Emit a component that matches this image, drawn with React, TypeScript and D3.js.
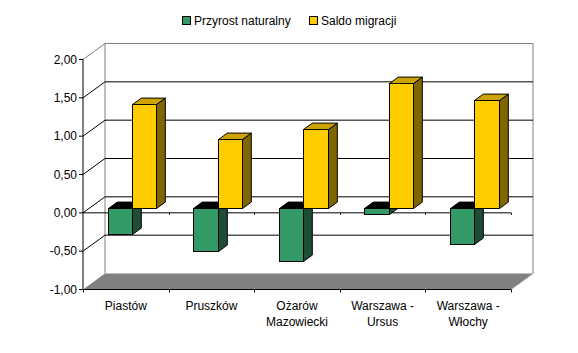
import * as d3 from "d3";

const categories = ["Piastów", "Pruszków", "Ożarów Mazowiecki", "Warszawa - Ursus", "Warszawa - Włochy"];
const categoryLines = [["Piastów"], ["Pruszków"], ["Ożarów", "Mazowiecki"], ["Warszawa -", "Ursus"], ["Warszawa -", "Włochy"]];
const seriesNames = ["Przyrost naturalny", "Saldo migracji"];
const przyrost = [-0.33, -0.55, -0.69, -0.07, -0.46];
const saldo = [1.36, 0.91, 1.04, 1.63, 1.41];
const yTicks = [-1, -0.5, 0, 0.5, 1, 1.5, 2];

const W = 578;
const H = 353;
const DX = 22; // depth of the 3d box
const DY = -16;
const FRONT = 0.28; // where the bars start in depth
const DEPTH = 0.4; // bar depth

const faces = [
  { front: "#339966", side: "#1d4d35", top: "#000000" },
  { front: "#ffcc00", side: "#806600", top: "#cca300" },
];

const fmt = (v: number) => d3.format(".2f")(v).replace(".", ",").replace("−", "-");

export default function App() {
  const y = d3.scaleLinear().domain([-1, 2]).range([289.5, 59.5]);
  const x0 = d3.scaleBand<string>().domain(categories).range([83, 511]);
  const x1 = d3.scaleBand<string>().domain(seriesNames).range([0, x0.bandwidth()]).paddingInner(0).paddingOuter(0.75);

  const left = 83;
  const right = 511;
  const bx = (x: number) => x + DX;
  const by = (v: number) => y(v) + DY;
  const values = [przyrost, saldo];

  const px = DX * FRONT;
  const py = DY * FRONT;
  const dx = DX * DEPTH;
  const dy = DY * DEPTH;

  const bars: JSX.Element[] = [];
  categories.forEach((c, i) => {
    seriesNames.forEach((s, si) => {
      const v = values[si][i];
      const xa = Math.round(x0(c)! + x1(s)! + px) + 0.5;
      const xb = Math.round(x0(c)! + x1(s)! + x1.bandwidth() + px) + 0.5;
      const yT = Math.round(y(Math.max(v, 0)) + py) + 0.5;
      const yB = Math.round(y(Math.min(v, 0)) + py) + 0.5;
      const f = faces[si];
      const pts = (a: number[][]) => a.map((p) => p.join(",")).join(" ");
      bars.push(
        <g key={c + s} stroke="#000" strokeWidth={1} strokeLinejoin="miter">
          <polygon fill={f.side} points={pts([[xb, yT], [xb + dx, yT + dy], [xb + dx, yB + dy], [xb, yB]])} />
          <polygon fill={f.top} points={pts([[xa, yT], [xa + dx, yT + dy], [xb + dx, yT + dy], [xb, yT]])} />
          <rect x={xa} y={yT} width={xb - xa} height={yB - yT} fill={f.front} />
        </g>
      );
    });
  });

  const gridVals = yTicks.filter((v) => v > -1 && v < 2);
  const font = "Arial, 'Liberation Sans', sans-serif";

  return (
    <svg width={W} height={H} style={{ position: "absolute", left: 0, top: 0, background: "#fff" }} fontFamily={font} fontSize={12}>
      {/* legend */}
      <g>
        <rect x={182.5} y={16.5} width={8} height={8} fill={faces[0].front} stroke="#000" />
        <text x={194} y={24.5}>{seriesNames[0]}</text>
        <rect x={309.5} y={16.5} width={8} height={8} fill={faces[1].front} stroke="#000" />
        <text x={321} y={24.5}>{seriesNames[1]}</text>
      </g>

      {/* walls */}
      <line x1={bx(left)} x2={bx(left)} y1={by(2)} y2={by(-1)} stroke="#808080" />
      <line x1={bx(right)} x2={bx(right)} y1={by(2)} y2={by(-1)} stroke="#808080" />
      <line x1={bx(left)} x2={bx(right)} y1={by(2)} y2={by(2)} stroke="#808080" />
      <line x1={left} y1={y(2)} x2={bx(left)} y2={by(2)} stroke="#808080" />
      {gridVals.map((v) => (
        <g key={v} stroke="#000">
          <line x1={left} y1={y(v)} x2={bx(left)} y2={by(v)} />
          <line x1={bx(left)} y1={by(v)} x2={bx(right)} y2={by(v)} />
        </g>
      ))}

      {/* floor */}
      <polygon
        points={[[left, y(-1)], [right, y(-1)], [bx(right), by(-1)], [bx(left), by(-1)]].map((p) => p.join(",")).join(" ")}
        fill="#808080"
      />
      <line x1={right} y1={y(-1)} x2={bx(right)} y2={by(-1)} stroke="#a0a0a0" />

      {/* category axis at zero */}
      <line x1={left} x2={right} y1={y(0)} y2={y(0)} stroke="#000" />
      {categories.map((c) => (
        <line key={c} x1={Math.round(x0(c)! + x0.bandwidth()) + 0.5} x2={Math.round(x0(c)! + x0.bandwidth()) + 0.5} y1={y(0)} y2={y(0) + 2} stroke="#000" />
      ))}

      {bars}

      {/* value axis */}
      <line x1={left} x2={left} y1={y(2)} y2={y(-1)} stroke="#000" />
      {yTicks.map((v) => (
        <g key={v}>
          <line x1={left - 4} x2={left} y1={y(v)} y2={y(v)} stroke="#000" />
          <text x={77} y={y(v)} dy="0.35em" textAnchor="end">{fmt(v)}</text>
        </g>
      ))}

      {/* bottom front edge */}
      <line x1={left} x2={right} y1={y(-1)} y2={y(-1)} stroke="#000" />
      {[left, ...categories.map((c) => x0(c)! + x0.bandwidth())].map((t, i) => (
        <line key={i} x1={Math.round(t) + 0.5} x2={Math.round(t) + 0.5} y1={y(-1)} y2={y(-1) + 3} stroke="#000" />
      ))}
      {categories.map((c, i) => (
        <text key={c} x={x0(c)! + x0.bandwidth() / 2} y={310} textAnchor="middle">
          {categoryLines[i].map((l, k) => (
            <tspan key={k} x={x0(c)! + x0.bandwidth() / 2} dy={k === 0 ? 0 : 16}>{l}</tspan>
          ))}
        </text>
      ))}
    </svg>
  );
}
